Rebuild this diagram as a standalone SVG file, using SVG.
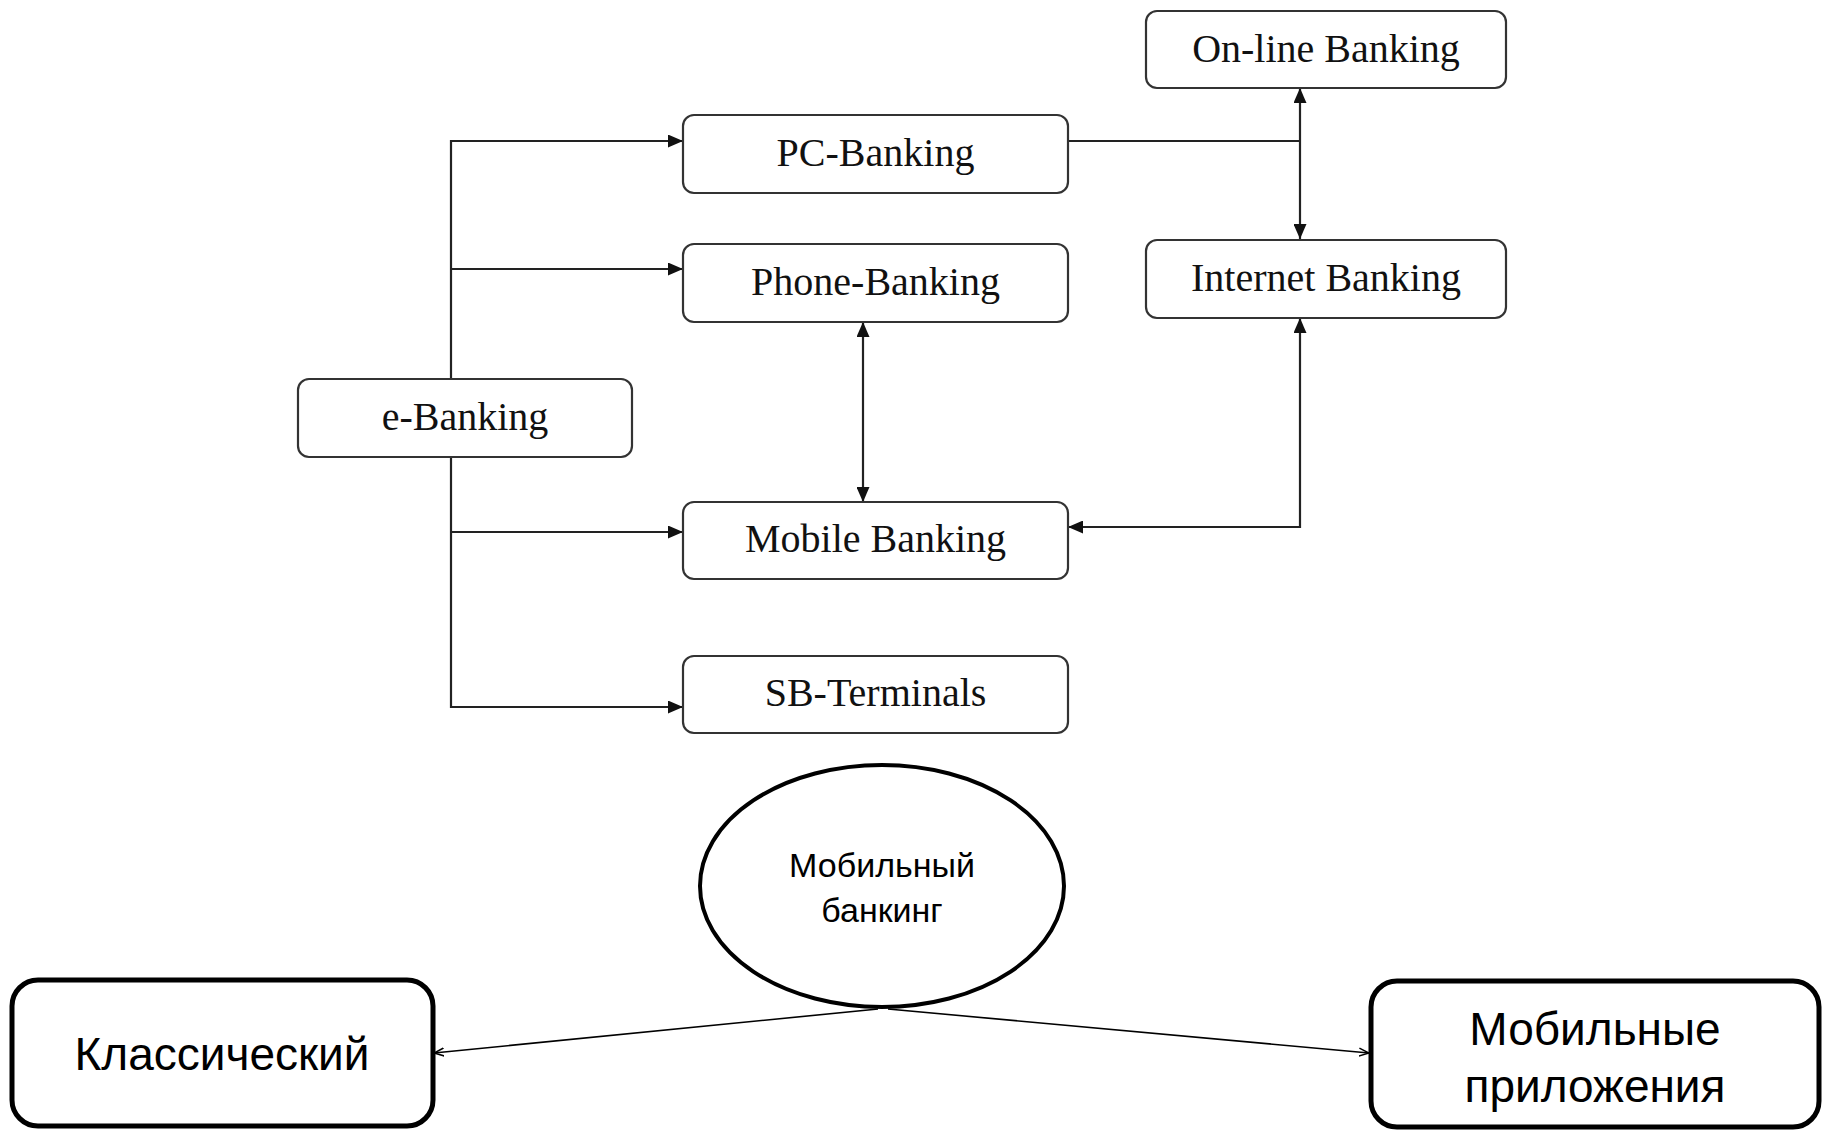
<svg xmlns="http://www.w3.org/2000/svg" width="1822" height="1131" viewBox="0 0 1822 1131">
<defs>
<style>
.box{fill:#fff;stroke:#333;stroke-width:2.2}
.t{font-family:"Liberation Serif","Times New Roman",serif;font-size:40px;fill:#111;text-anchor:middle}
.c{fill:none;stroke:#222;stroke-width:2.2}
.thin{fill:none;stroke:#000;stroke-width:1.6}
.bbox{fill:#fff;stroke:#000;stroke-width:5}
.s{font-family:"Liberation Sans",Arial,sans-serif;fill:#000;text-anchor:middle}
</style>
<marker id="a" viewBox="0 0 15 13" refX="15" refY="6.5" markerWidth="15" markerHeight="13" markerUnits="userSpaceOnUse" orient="auto-start-reverse">
<path d="M0,0 L15,6.5 L0,13 Z" fill="#111"/>
</marker>
<marker id="o" viewBox="0 0 10 10" refX="10" refY="5" markerWidth="10" markerHeight="10" markerUnits="userSpaceOnUse" orient="auto">
<path d="M0,1 L10,5 L0,9" fill="none" stroke="#000" stroke-width="1.5"/>
</marker>
</defs>
<rect width="1822" height="1131" fill="#fff"/>
<g id="connectors">
<path class="c" d="M451,379 V141 H683" marker-end="url(#a)"/>
<path class="c" d="M451,269 H683" marker-end="url(#a)"/>
<path class="c" d="M451,457 V707 H683" marker-end="url(#a)"/>
<path class="c" d="M451,532 H683" marker-end="url(#a)"/>
<path class="c" d="M1068,141 H1300"/>
<path class="c" d="M1300,88 V239" marker-start="url(#a)" marker-end="url(#a)"/>
<path class="c" d="M863,322 V502" marker-start="url(#a)" marker-end="url(#a)"/>
<path class="c" d="M1300,318 V527 H1068" marker-start="url(#a)" marker-end="url(#a)"/>
<path class="thin" d="M878,1009 L434,1053" marker-end="url(#o)"/>
<path class="thin" d="M888,1009 L1369,1053" marker-end="url(#o)"/>
</g>
<g id="online">
<rect class="box" x="1146" y="11" width="360" height="77" rx="11"/>
<text class="t" x="1326" y="62">On-line Banking</text>
</g>
<g id="pc">
<rect class="box" x="683" y="115" width="385" height="78" rx="11"/>
<text class="t" x="875.5" y="166">PC-Banking</text>
</g>
<g id="phone">
<rect class="box" x="683" y="244" width="385" height="78" rx="11"/>
<text class="t" x="875.5" y="295">Phone-Banking</text>
</g>
<g id="internet">
<rect class="box" x="1146" y="240" width="360" height="78" rx="11"/>
<text class="t" x="1326" y="291">Internet Banking</text>
</g>
<g id="ebanking">
<rect class="box" x="298" y="379" width="334" height="78" rx="11"/>
<text class="t" x="465" y="430">e-Banking</text>
</g>
<g id="mobile">
<rect class="box" x="683" y="502" width="385" height="77" rx="11"/>
<text class="t" x="875.5" y="552">Mobile Banking</text>
</g>
<g id="sb">
<rect class="box" x="683" y="656" width="385" height="77" rx="11"/>
<text class="t" x="875.5" y="706">SB-Terminals</text>
</g>
<g id="mb">
<ellipse cx="882" cy="886" rx="182" ry="121" fill="#fff" stroke="#000" stroke-width="4"/>
<text class="s" x="882" y="877" font-size="34">Мобильный</text>
<text class="s" x="882" y="922" font-size="34">банкинг</text>
</g>
<g id="classic">
<rect class="bbox" x="12" y="980" width="421" height="146" rx="26"/>
<text class="s" x="222" y="1070" font-size="46">Классический</text>
</g>
<g id="apps">
<rect class="bbox" x="1371" y="981" width="448" height="146" rx="26"/>
<text class="s" x="1595" y="1045" font-size="46">Мобильные</text>
<text class="s" x="1595" y="1102" font-size="46">приложения</text>
</g>
</svg>
